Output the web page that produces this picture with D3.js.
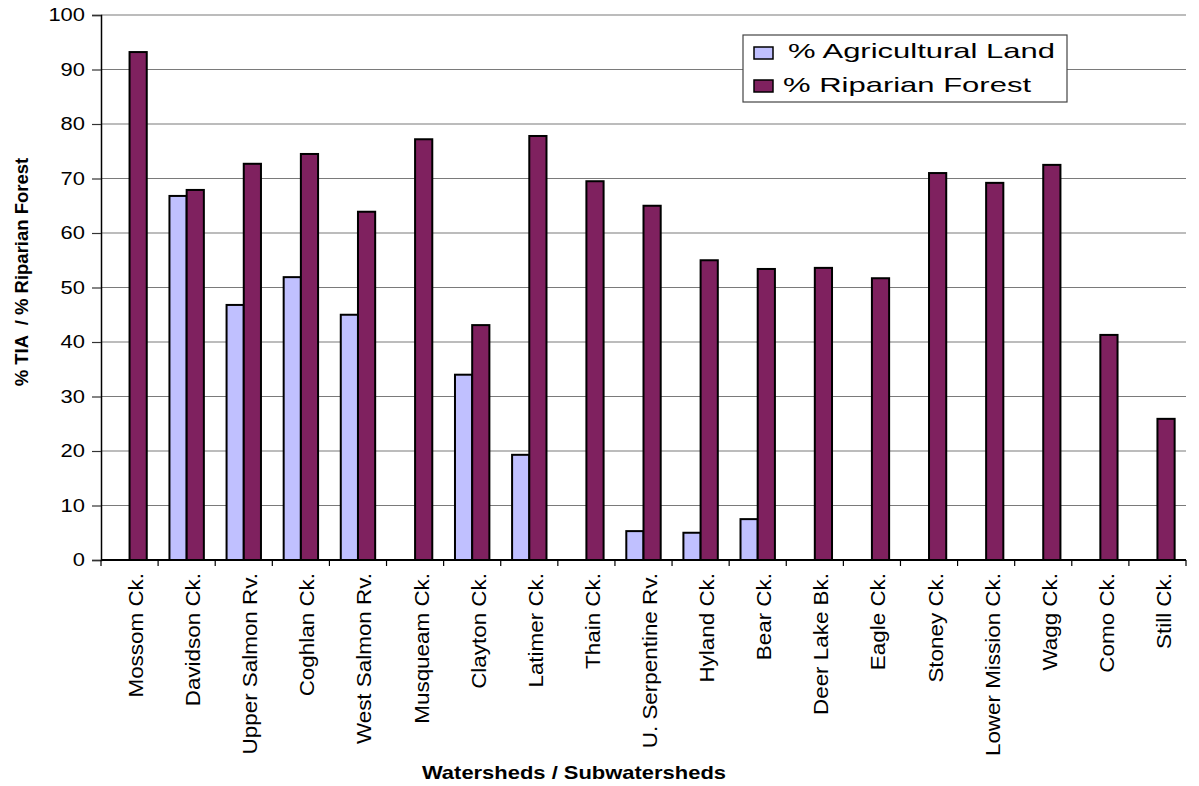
<!DOCTYPE html>
<html>
<head>
<meta charset="utf-8">
<script src="https://cdn.jsdelivr.net/npm/d3@7"></script>
<style>
  html, body { margin: 0; padding: 0; background: #fff; }
  svg { display: block; font-family: "Liberation Sans", Arial, Helvetica, sans-serif; }
</style>
</head>
<body>
<svg id="chart" width="1199" height="786"></svg>
<script>
// Watersheds and their land-cover percentages
const watersheds = [
  "Mossom Ck.", "Davidson Ck.", "Upper Salmon Rv.", "Coghlan Ck.", "West Salmon Rv.",
  "Musqueam Ck.", "Clayton Ck.", "Latimer Ck.", "Thain Ck.", "U. Serpentine Rv.",
  "Hyland Ck.", "Bear Ck.", "Deer Lake Bk.", "Eagle Ck.", "Stoney Ck.",
  "Lower Mission Ck.", "Wagg Ck.", "Como Ck.", "Still Ck."
];
const agriculturalLand = [
  null, 66.8, 46.8, 51.9, 45.0,
  null, 34.0, 19.3, null, 5.3,
  5.0, 7.5, null, null, null,
  null, null, null, null
];
const riparianForest = [
  93.2, 67.9, 72.7, 74.5, 63.9,
  77.2, 43.1, 77.8, 69.5, 65.0,
  55.0, 53.4, 53.6, 51.7, 71.0,
  69.2, 72.5, 41.3, 25.9
];
const seriesNames = ["% Agricultural Land", "% Riparian Forest"];
const seriesColors = ["#c0c0ff", "#7f215f"];
const yTicks = [0, 10, 20, 30, 40, 50, 60, 70, 80, 90, 100];

const svg = d3.select("#chart");
const plot = { left: 101, right: 1186, top: 15, bottom: 560 };

const x = d3.scaleBand().domain(watersheds).range([plot.left, plot.right]).padding(0);
const inner = d3.scaleBand().domain(seriesNames).range([0, x.bandwidth()])
  .paddingInner(0).paddingOuter(0.66);
const y = d3.scaleLinear().domain([0, 100]).range([plot.bottom, plot.top]);

// horizontal gridlines
svg.append("g")
  .selectAll("line")
  .data(yTicks.filter(t => t > 0))
  .join("line")
  .attr("x1", plot.left).attr("x2", plot.right)
  .attr("y1", d => y(d)).attr("y2", d => y(d))
  .attr("stroke", "#7a7a7a").attr("stroke-width", 1.2);

// bars
const rows = watersheds.map((w, i) => ({ w, vals: [agriculturalLand[i], riparianForest[i]] }));
const groups = svg.append("g").selectAll("g")
  .data(rows).join("g")
  .attr("transform", d => `translate(${x(d.w)},0)`);
groups.selectAll("rect")
  .data(d => d.vals.map((v, k) => ({ v, k })).filter(e => e.v != null))
  .join("rect")
  .attr("x", e => inner(seriesNames[e.k]))
  .attr("width", inner.bandwidth())
  .attr("y", e => y(e.v))
  .attr("height", e => y(0) - y(e.v))
  .attr("fill", e => seriesColors[e.k])
  .attr("stroke", "#000").attr("stroke-width", 2);

// y axis
const yAxis = d3.axisLeft(y).tickValues(yTicks).tickSize(9).tickPadding(7).tickFormat(d3.format("d"));
const gy = svg.append("g").attr("transform", `translate(${plot.left},0)`).call(yAxis);
gy.select(".domain").attr("stroke", "#000").attr("stroke-width", 1.5);
gy.selectAll(".tick line").attr("stroke", "#333").attr("stroke-width", 1.2);
gy.selectAll(".tick text")
  .attr("font-size", 18).attr("fill", "#000")
  .attr("font-family", "'Liberation Sans', Arial, sans-serif")
  .each(function () {
    const t = d3.select(this);
    const xx = +t.attr("x");
    t.attr("x", null).attr("transform", `translate(${xx},0) scale(1.22,1)`);
  });

// x axis: ticks on category boundaries
const gx = svg.append("g");
gx.append("line")
  .attr("x1", plot.left).attr("x2", plot.right)
  .attr("y1", plot.bottom).attr("y2", plot.bottom)
  .attr("stroke", "#000").attr("stroke-width", 2);
const boundaries = watersheds.map(w => x(w)).concat([x.range()[1]]);
gx.selectAll("line.tk")
  .data(boundaries).join("line").attr("class", "tk")
  .attr("x1", d => d).attr("x2", d => d)
  .attr("y1", plot.bottom).attr("y2", plot.bottom + 6)
  .attr("stroke", "#000").attr("stroke-width", 1.2);
gx.selectAll("text")
  .data(watersheds).join("text")
  .attr("transform", d => `translate(${x(d) + x.bandwidth() / 2 + 13.5},${plot.bottom + 13}) rotate(-90) scale(1.15,1)`)
  .attr("text-anchor", "end")
  .attr("font-size", 19.5)
  .attr("fill", "#000")
  .text(d => d);

// axis titles
svg.append("text")
  .attr("transform", "translate(574,779) scale(1.22,1)")
  .attr("text-anchor", "middle")
  .attr("font-size", 18).attr("font-weight", "bold")
  .text("Watersheds / Subwatersheds");
svg.append("text")
  .attr("transform", "translate(28,272) rotate(-90)")
  .attr("text-anchor", "middle")
  .attr("font-size", 18.5).attr("font-weight", "bold")
  .style("white-space", "pre")
  .text("% TIA  / % Riparian Forest");

// legend
const legend = svg.append("g");
legend.append("rect")
  .attr("x", 743).attr("y", 35).attr("width", 324).attr("height", 67)
  .attr("fill", "#fff").attr("stroke", "#444").attr("stroke-width", 1.2);
const items = legend.selectAll("g.item")
  .data(seriesNames).join("g").attr("class", "item")
  .attr("transform", (d, i) => `translate(754,${i === 0 ? 47 : 80})`);
items.append("rect")
  .attr("width", 19).attr("height", 12)
  .attr("fill", (d, i) => seriesColors[i])
  .attr("stroke", "#000").attr("stroke-width", 1.5);
items.append("text")
  .attr("transform", (d, i) => `translate(${i === 0 ? 34 : 29},${i === 0 ? 11 : 12}) scale(1.55,1)`)
  .attr("font-size", 20).attr("fill", "#000")
  .text(d => d);
</script>
</body>
</html>
